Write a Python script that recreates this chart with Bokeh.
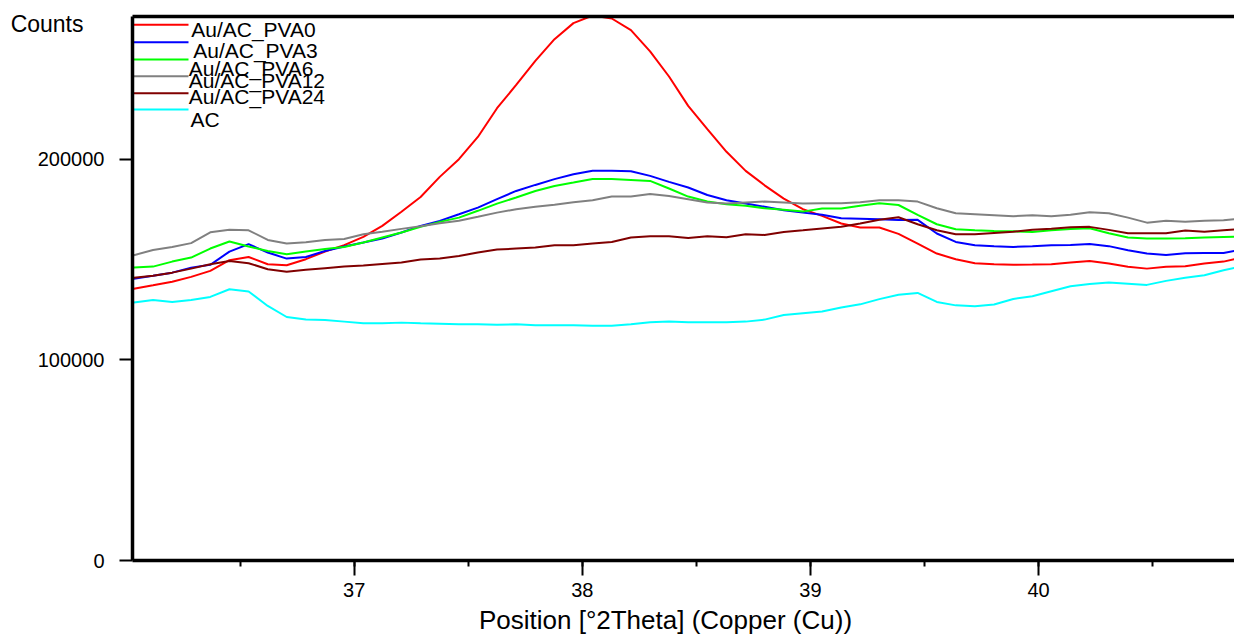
from bokeh.plotting import figure
from bokeh.models import Range1d, LinearAxis, SingleIntervalTicker, FixedTicker, PrintfTickFormatter
from bokeh.embed import file_html
from bokeh.resources import INLINE
from bokeh.core.properties import value

# ---------------- data ----------------
two_theta = [36.034, 36.118, 36.202, 36.285, 36.369, 36.453, 36.537, 36.621, 36.704, 36.788,
             36.872, 36.956, 37.040, 37.123, 37.207, 37.291, 37.375, 37.459, 37.542, 37.626,
             37.710, 37.794, 37.878, 37.961, 38.045, 38.129, 38.213, 38.297, 38.380, 38.464,
             38.548, 38.632, 38.716, 38.799, 38.883, 38.967, 39.051, 39.135, 39.218, 39.302,
             39.386, 39.470, 39.554, 39.637, 39.721, 39.805, 39.889, 39.973, 40.056, 40.140,
             40.224, 40.308, 40.392, 40.475, 40.559, 40.643, 40.727, 40.811, 40.894]

pva0 = [135400, 137100, 138900, 141300, 144300, 149600, 151200, 147600, 147100, 150100,
        153900, 157100, 161200, 166700, 173700, 181100, 191100, 199900, 211000, 225300,
        236900, 248900, 259700, 267700, 271500, 270000, 264200, 253600, 241100, 226500,
        214900, 203600, 194100, 186900, 180300, 175000, 171700, 167900, 165900, 165900,
        162700, 157900, 152900, 150100, 148100, 147600, 147300, 147400, 147600, 148400,
        149200, 147900, 146300, 145400, 146300, 146600, 147900, 148900, 151000]

pva3 = [140400, 141800, 143400, 145900, 147300, 153900, 157600, 153400, 150400, 151200,
        154200, 156400, 158400, 160400, 163400, 166700, 169200, 172500, 175800, 180000,
        184100, 187100, 190000, 192400, 194200, 194200, 193900, 191600, 188600, 185800,
        182100, 179500, 177800, 176200, 174500, 173300, 172200, 170500, 170300, 170000,
        169600, 169700, 162900, 158700, 157100, 156600, 156200, 156600, 157100, 157200,
        157700, 156600, 154600, 152900, 152200, 153100, 153200, 153200, 154900]

pva6 = [145900, 146400, 148900, 150900, 155400, 158900, 156400, 154200, 152600, 153900,
        155200, 156200, 158400, 160900, 163400, 166200, 168700, 170800, 174200, 177800,
        180800, 184100, 186600, 188300, 190100, 190100, 189600, 189100, 185300, 181300,
        178800, 177500, 176700, 175500, 174700, 173800, 175300, 175300, 176700, 178000,
        177100, 172200, 167500, 165000, 164500, 164200, 164000, 163700, 164500, 165200,
        165500, 163000, 160900, 160400, 160400, 160500, 160900, 161200, 161400]

pva12 = [152100, 154700, 156200, 158100, 163500, 164800, 164500, 159700, 157900, 158500,
         159700, 160200, 162500, 163800, 165200, 166500, 168000, 169200, 171200, 173300,
         175000, 176200, 177200, 178500, 179500, 181300, 181300, 182600, 181600, 180000,
         178300, 177800, 178300, 178800, 178300, 177800, 178000, 178000, 178500, 179500,
         179500, 178800, 175500, 173000, 172500, 172000, 171500, 172000, 171500, 172200,
         173500, 173000, 170800, 168300, 169200, 168800, 169200, 169500, 170300]

pva24 = [140900, 141800, 143400, 145400, 147600, 149200, 148100, 145100, 143900, 144800,
         145600, 146400, 146900, 147700, 148400, 149900, 150400, 151700, 153400, 154900,
         155400, 155900, 157100, 157100, 157900, 158700, 160900, 161500, 161500, 160700,
         161500, 161000, 162500, 162200, 163700, 164500, 165400, 166300, 167900, 169700,
         171000, 167500, 164500, 162500, 162500, 163200, 163800, 164800, 165300, 166000,
         166200, 164700, 163000, 163000, 163000, 164400, 163800, 164500, 165200]

ac = [128500, 129800, 128800, 129800, 131300, 135100, 134000, 126800, 121300, 120000,
      119800, 119000, 118200, 118200, 118500, 118200, 118000, 117700, 117700, 117400,
      117700, 117200, 117200, 117200, 116900, 116900, 117700, 118700, 119000, 118700,
      118700, 118700, 119000, 120000, 122300, 123200, 124000, 126000, 127600, 130200,
      132400, 133300, 128800, 127100, 126600, 127500, 130300, 131600, 134100, 136600,
      137800, 138500, 137900, 137300, 139300, 140900, 142100, 144600, 146600]

series_names = ["Au/AC_PVA0", "Au/AC_PVA3", "Au/AC_PVA6", "Au/AC_PVA12", "Au/AC_PVA24", "AC"]
series_values = [pva0, pva3, pva6, pva12, pva24, ac]
series_colors = ["#FF0000", "#0000FF", "#00FF00", "#808080", "#800000", "#00FFFF"]

x_label = "Position [°2Theta] (Copper (Cu))"
y_label = "Counts"

# ---------------- layout ----------------
FONT = "Liberation Sans"
W, H = 1234, 638
FL, FR, FT, FB = 132, 1234, 16, 560
X0, X1 = 36.028, 40.859
Y0, Y1 = 0, 271000


def px2x(px):
    return X0 + (px - FL) / (FR - FL) * (X1 - X0)


def py2y(py):
    return Y0 + (FB - py) / (FB - FT) * (Y1 - Y0)


p = figure(width=W, height=H, output_backend="svg", toolbar_location=None,
           x_range=Range1d(X0, X1), y_range=Range1d(Y0, Y1),
           min_border_left=FL, min_border_right=0, min_border_top=FT, min_border_bottom=H - FB)
p.outline_line_color = None
p.grid.visible = False
p.background_fill_color = "white"
p.border_fill_color = "white"

xa = p.xaxis[0]
xa.ticker = SingleIntervalTicker(interval=1, num_minor_ticks=2)
xa.axis_line_width = 3.5
xa.axis_line_color = "black"
xa.major_tick_line_width = 2
xa.major_tick_line_color = "black"
xa.major_tick_out = 15
xa.major_tick_in = 0
xa.minor_tick_line_width = 2
xa.minor_tick_line_color = "black"
xa.minor_tick_out = 6
xa.minor_tick_in = 0
xa.major_label_text_font = FONT
xa.major_label_text_font_size = "20px"
xa.major_label_text_color = "black"
xa.major_label_standoff = 7

ya = p.yaxis[0]
ya.ticker = SingleIntervalTicker(interval=100000, num_minor_ticks=0)
ya.formatter = PrintfTickFormatter(format="%d")
ya.axis_line_width = 3.5
ya.axis_line_color = "black"
ya.major_tick_line_width = 2
ya.major_tick_line_color = "black"
ya.major_tick_out = 13
ya.major_tick_in = 0
ya.minor_tick_out = 0
ya.minor_tick_in = 0
ya.major_label_text_font = FONT
ya.major_label_text_font_size = "20px"
ya.major_label_text_color = "black"
ya.major_label_standoff = 15

top = LinearAxis(ticker=FixedTicker(ticks=[]), axis_line_width=3.5, axis_line_color="black",
                 major_tick_out=0, major_tick_in=0, minor_tick_out=0, minor_tick_in=0,
                 major_label_text_font_size="0px", major_label_standoff=0)
p.add_layout(top, "above")

# "Counts" title, top-left beside the frame (a label-only axis outside the value axis)
counts_axis = LinearAxis(ticker=FixedTicker(ticks=[py2y(23)]),
                         formatter=PrintfTickFormatter(format=y_label),
                         axis_line_color=None, major_tick_line_color=None, minor_tick_line_color=None,
                         major_tick_out=0, major_tick_in=0, minor_tick_out=0, minor_tick_in=0,
                         major_label_standoff=-49, major_label_text_font=FONT,
                         major_label_text_font_size="23px", major_label_text_color="black")
p.add_layout(counts_axis, "left")

# x title, placed like the original (a label-only axis under the value axis)
xlabel_axis = LinearAxis(ticker=FixedTicker(ticks=[px2x(665)]),
                         formatter=PrintfTickFormatter(format=x_label),
                         axis_line_color=None, major_tick_line_color=None, minor_tick_line_color=None,
                         major_tick_out=0, major_tick_in=0, minor_tick_out=0, minor_tick_in=0,
                         major_label_standoff=5, major_label_text_font=FONT,
                         major_label_text_font_size="26px", major_label_text_color="black")
p.add_layout(xlabel_axis, "below")

for vals, col in zip(series_values, series_colors):
    p.line(two_theta, vals, line_color=col, line_width=2)

# legend (hand-placed like the original, overlapping labels)
leg_line_py = [24.3, 41.7, 59, 75.7, 92.7, 109]
leg_text_px = [190.7, 192.7, 188.3, 188.3, 188.3, 190]
leg_text_py = [28.5, 49.5, 67.5, 79.5, 95.5, 118.5]   # vertical centres of the labels
for name, col, lpy in zip(series_names, series_colors, leg_line_py):
    p.line([px2x(133), px2x(188)], [py2y(lpy), py2y(lpy)], line_color=col, line_width=2)
p.text(x=[px2x(v) for v in leg_text_px], y=[py2y(v) for v in leg_text_py], text=series_names,
       text_font=value(FONT), text_font_size="21px", text_baseline="middle",
       text_align="left", text_color="black")

open("out.html", "w").write(file_html(p, INLINE))
